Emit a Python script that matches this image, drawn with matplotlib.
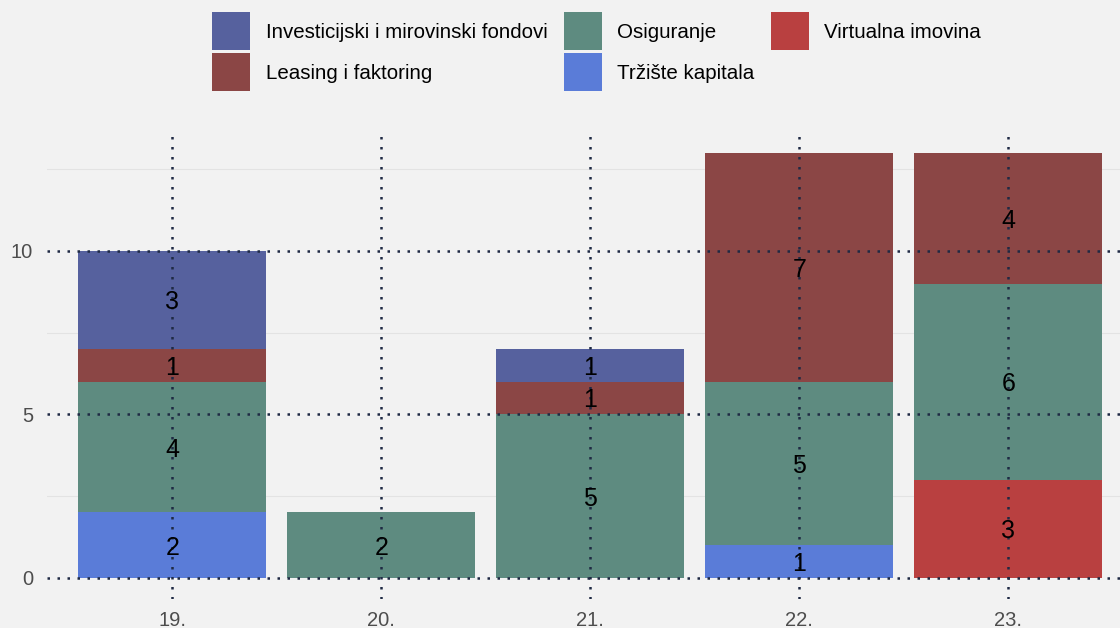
import numpy as np
import matplotlib.pyplot as plt
from matplotlib.patches import Rectangle

plt.rcParams['font.family'] = ['Liberation Sans', 'DejaVu Sans']

# Podaci
godine = ['19.', '20.', '21.', '22.', '23.']
sektori = ['Investicijski i mirovinski fondovi', 'Leasing i faktoring',
           'Osiguranje', 'Tržište kapitala', 'Virtualna imovina']
boje = ['#56619e', '#8b4645', '#5e8b80', '#5a7cd8', '#b94040']

investicijski = [3, 0, 1, 0, 0]
leasing = [1, 0, 1, 7, 4]
osiguranje = [4, 2, 5, 5, 6]
trziste = [2, 0, 0, 1, 0]
virtualna = [0, 0, 0, 0, 3]

# redoslijed slaganja odozdo prema gore
slojevi = [(virtualna, boje[4]), (trziste, boje[3]), (osiguranje, boje[2]),
           (leasing, boje[1]), (investicijski, boje[0])]

W, H = 1120, 628
pozadina = '#f2f2f2'
fig = plt.figure(figsize=(W / 100, H / 100), dpi=100, facecolor=pozadina)
ax = fig.add_axes([47 / W, 29 / H, 5.2 * 209 / W, 467.4 / H])
ax.set_facecolor(pozadina)

x = np.arange(len(godine))
dno = np.zeros(len(godine))
for vrijednosti, boja in slojevi:
    v = np.array(vrijednosti, dtype=float)
    ax.bar(x, v, 0.9, bottom=dno, color=boja, linewidth=0, zorder=1)
    for xi, yi, b in zip(x, v, dno):
        if yi > 0:
            ax.text(xi, b + yi / 2, f'{int(yi)}', ha='center', va='center_baseline',
                    fontsize=18, color='black', zorder=3)
    dno += v

# pomoćne linije
for y in [2.5, 7.5, 12.5]:
    ax.axhline(y, color='#e3e3e3', linewidth=0.8, zorder=0.5)

ax.set_xlim(-0.6, 4.6)
ax.set_ylim(-0.65, 13.65)
ax.set_xticks(x)
ax.set_xticklabels(godine)
ax.set_yticks([0, 5, 10])
ax.tick_params(length=0, labelsize=14.5, labelcolor='#4d4d4d')
ax.tick_params(axis='y', pad=10)
ax.tick_params(axis='x', pad=9)
for s in ax.spines.values():
    s.set_visible(False)

ax.set_axisbelow(False)
ax.grid(True, which='major', color='#1f2a44', linestyle=(0, (1, 3)), linewidth=1.8)

# legenda: 2 reda, popunjava se po stupcima
renderer = fig.canvas.get_renderer()
kv = 38          # veličina kvadratića (px)
razmak = 41      # razmak redova (px)
x0, y0 = 212, 12
for stupac in range(3):
    sirina = 0
    for red in range(2):
        i = stupac * 2 + red
        if i >= len(sektori):
            break
        gore = y0 + red * razmak
        fig.add_artist(Rectangle((x0 / W, 1 - (gore + kv) / H), kv / W, kv / H,
                                 transform=fig.transFigure, facecolor=boje[i],
                                 edgecolor='none'))
        t = fig.text((x0 + kv + 15.5) / W, 1 - (gore + kv / 2 + 7.4) / H, sektori[i],
                     fontsize=14.8, color='black', va='baseline', ha='left')
        sirina = max(sirina, t.get_window_extent(renderer).width)
    x0 += kv + 15.5 + sirina + 16.5

fig.savefig('out.png', dpi=100, facecolor=pozadina)
